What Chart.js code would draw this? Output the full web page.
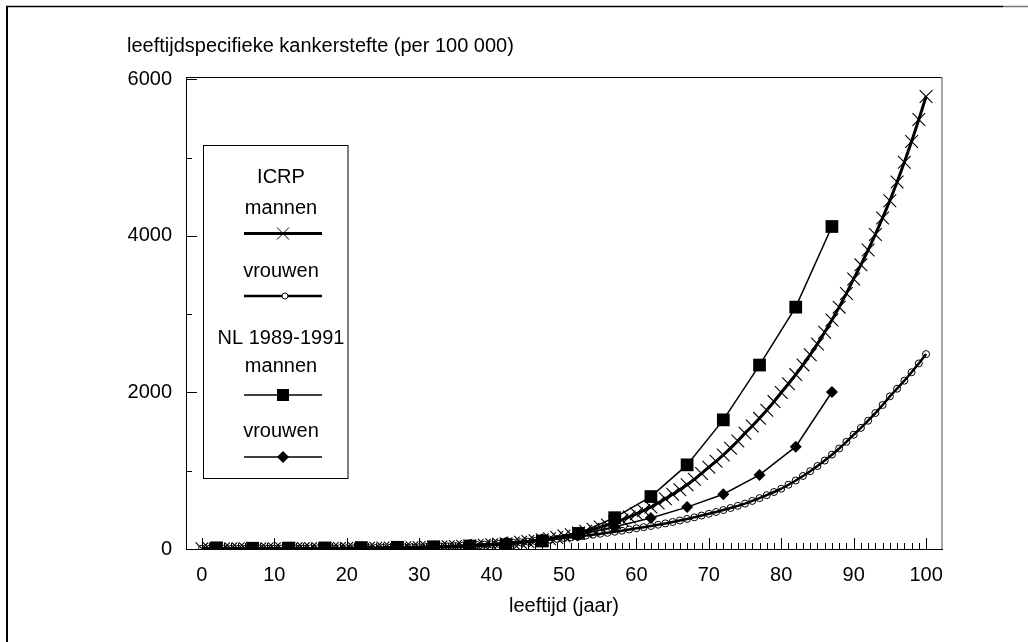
<!DOCTYPE html>
<html>
<head>
<meta charset="utf-8">
<script src="https://cdn.jsdelivr.net/npm/chart.js@4/dist/chart.umd.min.js"></script>
<style>
html,body{margin:0;padding:0;background:#fff;}
#wrap{position:relative;width:1028px;height:642px;}
canvas{display:block;}
</style>
</head>
<body>
<div id="wrap"><canvas id="c" width="1028" height="642"></canvas></div>
<script>
// ---- data ----
const ages = [0,1,2,3,4,5,6,7,8,9,10,11,12,13,14,15,16,17,18,19,20,21,22,23,24,25,26,27,28,29,30,31,32,33,34,35,36,37,38,39,40,41,42,43,44,45,46,47,48,49,50,51,52,53,54,55,56,57,58,59,60,61,62,63,64,65,66,67,68,69,70,71,72,73,74,75,76,77,78,79,80,81,82,83,84,85,86,87,88,89,90,91,92,93,94,95,96,97,98,99,100];
const icrpMannen = [3,3,3,3,3,3,3,3,3,4,4,4,4,5,5,5,5.5,6,7,7.5,8,8.7,9.4,10.2,11.1,12,13.2,14.4,15.8,17.3,19,21,23.4,26,28.8,32,35.7,39.7,44.2,49.3,55,61.3,68.4,76.3,85.1,95,106,118.5,132,148,165,183,204,227,252,280,308,338,372,409,450,492,537,587,641,700,758,822,890,965,1045,1120,1201,1288,1380,1480,1572,1669,1773,1883,2000,2111,2228,2352,2482,2620,2768,2925,3090,3265,3450,3630,3820,4019,4229,4450,4689,4941,5206,5486,5780];
const icrpVrouwen = [3,3,3,3,3,4,4,4,4.5,5,5,5.3,5.7,6.1,6.5,7,7.5,8.1,8.7,9.3,10,10.8,11.8,12.8,13.8,15,16.5,18.1,19.9,21.8,24,26.3,28.8,31.6,34.7,38,41.6,45.6,50,54.8,60,65.8,72,79,86.6,95,102.7,111,120,129.6,140,149.6,159.8,170.8,182.5,195,207,220,234,249,265,279,294,310,327,345,364,384,405,427,450,473,498,524,551,580,614,650,688,728,770,821,875,933,994,1060,1130,1205,1284,1369,1460,1547,1639,1737,1840,1950,2048,2150,2258,2371,2490];
const nlAges = [2,7,12,17,22,27,32,37,42,47,52,57,62,67,72,77,82,87];
const nlMannen = [15,10,12,14,18,22,28,38,55,102,200,400,670,1075,1650,2350,3090,4120];
const nlVrouwen = [10,7,8,10,14,20,30,50,80,125,180,285,395,535,700,946,1307,2006];
const xTickLabels = [0,10,20,30,40,50,60,70,80,90,100];
const yTickLabels = [0,2000,4000,6000];
const yMinorTicks = [1000,3000,5000];
const yTitle = 'leeftijdspecifieke kankerstefte (per 100 000)';
const xTitle = 'leeftijd (jaar)';
const legendItems = ['ICRP','mannen','vrouwen','NL 1989-1991','mannen','vrouwen'];

const FONT = "'Liberation Sans', Arial, Helvetica, sans-serif";
Chart.defaults.font.family = FONT;
Chart.defaults.font.size = 20;
Chart.defaults.color = '#000';

function pts(xs, ys){ return xs.map((x,i)=>({x:x, y:ys[i]})); }

function crossAt(ctx,x,y,r){
  const d = r*Math.SQRT1_2;
  ctx.beginPath();
  ctx.moveTo(x-d,y-d); ctx.lineTo(x+d,y+d);
  ctx.moveTo(x+d,y-d); ctx.lineTo(x-d,y+d);
  ctx.stroke();
}

const decor = {
  id:'decor',
  beforeDraw(chart){
    const ctx = chart.ctx;
    ctx.save();
    ctx.fillStyle='#fff'; ctx.fillRect(0,0,chart.width,chart.height);
    // outer frame
    ctx.strokeStyle='#000'; ctx.lineWidth=1.5;
    ctx.beginPath(); ctx.moveTo(6,6.5); ctx.lineTo(1003,6.5); ctx.stroke();
    ctx.strokeStyle='#777';
    ctx.beginPath(); ctx.moveTo(1003,6.5); ctx.lineTo(1028,6.5); ctx.stroke();
    ctx.strokeStyle='#000'; ctx.lineWidth=2;
    ctx.beginPath(); ctx.moveTo(7,6); ctx.lineTo(7,642); ctx.stroke();
    // y title
    ctx.fillStyle='#000'; ctx.font='20px '+FONT; ctx.textAlign='left'; ctx.textBaseline='alphabetic';
    ctx.fillText(yTitle,127,52);
    ctx.restore();
  },
  beforeDatasetsDraw(chart){
    const ctx = chart.ctx, a = chart.chartArea;
    const xs = chart.scales.x, ys = chart.scales.y;
    ctx.save();
    // plot frame top & right
    ctx.strokeStyle='#000'; ctx.lineWidth=1;
    ctx.beginPath(); ctx.moveTo(a.left,a.top+0.5); ctx.lineTo(a.right,a.top+0.5); ctx.stroke();
    ctx.strokeStyle='#888'; ctx.lineWidth=1.5;
    ctx.beginPath(); ctx.moveTo(a.right,a.top); ctx.lineTo(a.right,a.bottom); ctx.stroke();
    // inward ticks on x
    ctx.strokeStyle='#000'; ctx.lineWidth=1;
    for(let v=0; v<=100; v++){
      const px = Math.round(xs.getPixelForValue(v))+0.5;
      const len = (v%10===0)?11:6;
      ctx.beginPath(); ctx.moveTo(px,a.bottom); ctx.lineTo(px,a.bottom-len); ctx.stroke();
    }
    // inward ticks on y
    yTickLabels.forEach(v=>{
      const py = Math.round(ys.getPixelForValue(v))+0.5;
      ctx.beginPath(); ctx.moveTo(a.left,py); ctx.lineTo(a.left+11,py); ctx.stroke();
    });
    yMinorTicks.forEach(v=>{
      const py = Math.round(ys.getPixelForValue(v))+0.5;
      ctx.beginPath(); ctx.moveTo(a.left,py); ctx.lineTo(a.left+6,py); ctx.stroke();
    });
    ctx.restore();
  },
  afterDraw(chart){
    const ctx = chart.ctx;
    ctx.save();
    // legend box
    ctx.fillStyle='#fff';
    ctx.fillRect(203.5,145.5,144.5,333);
    ctx.strokeStyle='#000'; ctx.lineWidth=1;
    ctx.strokeRect(203.5,145.5,144.5,333);
    ctx.fillStyle='#000'; ctx.font='20px '+FONT; ctx.textAlign='center'; ctx.textBaseline='alphabetic';
    const cx = 281;
    const textY = [183,214,277,344,372,437];
    legendItems.forEach((t,i)=>ctx.fillText(t,cx,textY[i]));
    const x1=244, x2=322, mx=283;
    // ICRP mannen
    ctx.strokeStyle='#000'; ctx.lineWidth=3;
    ctx.beginPath(); ctx.moveTo(x1,233.5); ctx.lineTo(x2,233.5); ctx.stroke();
    ctx.lineWidth=1; ctx.strokeStyle='#000'; crossAt(ctx,mx,233.5,8.5);
    // ICRP vrouwen
    ctx.strokeStyle='#000'; ctx.lineWidth=2.5;
    ctx.beginPath(); ctx.moveTo(x1,296); ctx.lineTo(x2,296); ctx.stroke();
    ctx.lineWidth=1; ctx.fillStyle='#fff';
    ctx.beginPath(); ctx.arc(mx+2,296,3,0,Math.PI*2); ctx.fill(); ctx.stroke();
    // NL mannen
    ctx.fillStyle='#000'; ctx.lineWidth=1.5;
    ctx.beginPath(); ctx.moveTo(x1,395); ctx.lineTo(x2,395); ctx.stroke();
    ctx.fillRect(mx-6,389,12,12);
    // NL vrouwen
    ctx.beginPath(); ctx.moveTo(x1,457); ctx.lineTo(x2,457); ctx.stroke();
    ctx.beginPath(); ctx.moveTo(mx,451); ctx.lineTo(mx+6,457); ctx.lineTo(mx,463); ctx.lineTo(mx-6,457); ctx.closePath(); ctx.fill();
    ctx.restore();
  }
};

new Chart(document.getElementById('c'), {
  type:'line',
  data:{
    datasets:[
      {label:'ICRP mannen', data:pts(ages,icrpMannen), borderColor:'#000', borderWidth:3,
       pointStyle:'crossRot', pointRadius:9, pointBorderWidth:1.1, pointBorderColor:'#000', pointBackgroundColor:'#000'},
      {label:'ICRP vrouwen', data:pts(ages,icrpVrouwen), borderColor:'#000', borderWidth:2.5,
       pointStyle:'circle', pointRadius:3.5, pointBorderWidth:1, pointBorderColor:'#000', pointBackgroundColor:'rgba(0,0,0,0)'},
      {label:'NL 1989-1991 mannen', data:pts(nlAges,nlMannen), borderColor:'#000', borderWidth:1.5,
       pointStyle:'rect', pointRadius:9, pointBorderWidth:0, pointBackgroundColor:'#000'},
      {label:'NL 1989-1991 vrouwen', data:pts(nlAges,nlVrouwen), borderColor:'#000', borderWidth:1.5,
       pointStyle:'rectRot', pointRadius:6, pointBorderWidth:0, pointBackgroundColor:'#000'}
    ]
  },
  options:{
    responsive:false, animation:false, devicePixelRatio:1,
    layout:{padding:{left:0,top:77,right:86,bottom:0}},
    plugins:{legend:{display:false}, tooltip:{enabled:false}, title:{display:false}},
    elements:{line:{tension:0}},
    scales:{
      x:{type:'linear', position:'bottom', min:-2.2, max:102.2,
         afterBuildTicks:(s)=>{ s.ticks = xTickLabels.map(v=>({value:v})); },
         afterFit:(s)=>{ s.height = 93; },
         ticks:{autoSkip:false, maxRotation:0, padding:14, callback:(v)=>String(v), font:{size:20}},
         grid:{display:false, drawTicks:false},
         border:{display:true, color:'#000', width:1},
         title:{display:true, text:xTitle, padding:{top:0,bottom:24}, font:{size:20}}},
      y:{type:'linear', position:'left', min:0, max:6030,
         afterBuildTicks:(s)=>{ s.ticks = yTickLabels.map(v=>({value:v})); },
         afterFit:(s)=>{ s.width = 186; },
         ticks:{autoSkip:false, padding:14, callback:(v)=>String(v), font:{size:20}},
         grid:{display:false, drawTicks:false},
         border:{display:true, color:'#000', width:1}}
    }
  },
  plugins:[decor]
});
</script>
</body>
</html>
